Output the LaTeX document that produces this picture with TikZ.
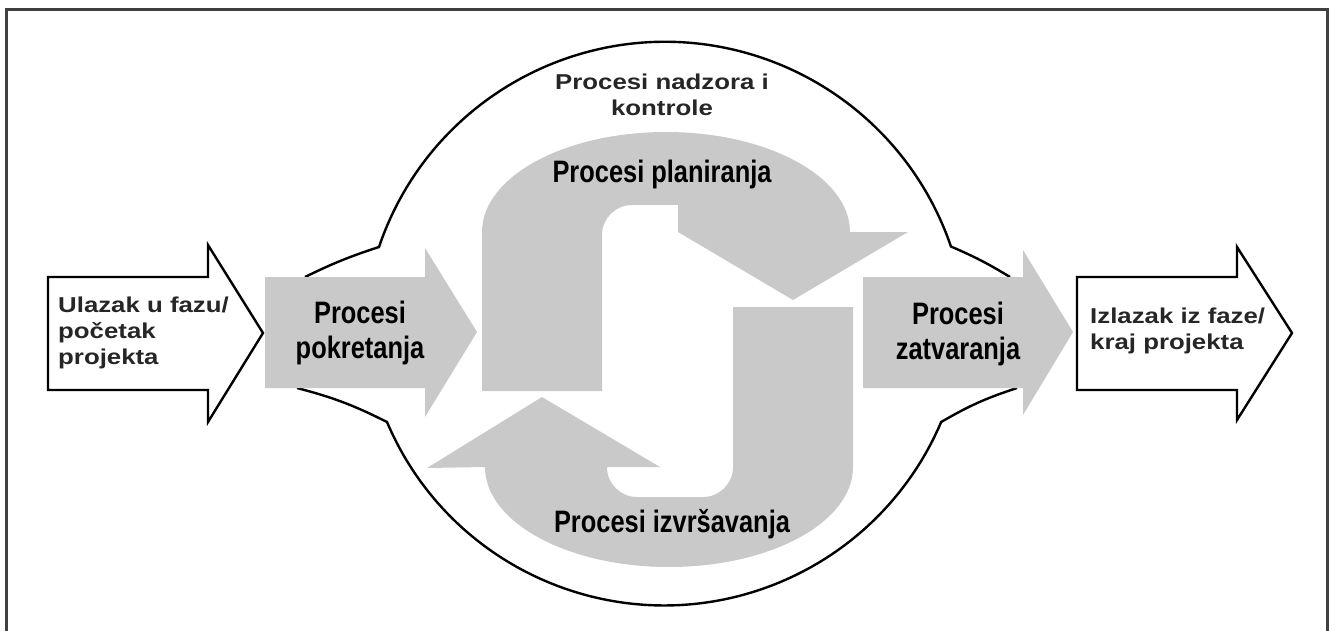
\documentclass[tikz,border=0pt]{standalone}
\usepackage{fontspec}
\setmainfont{Liberation Sans}
\newfontfamily\narrowfont[FakeStretch=0.82]{Liberation Sans}
\newfontfamily\widefont[FakeStretch=1.2]{Liberation Sans}
\usepackage{tikz}

\begin{document}
\begin{tikzpicture}[x=1pt, y=-1pt,
    phase/.style={fill=black!21, draw=none},
    gate/.style={draw=black, line width=2.4pt, fill=white, line join=miter},
    bigtxt/.style={font=\narrowfont\bfseries\fontsize{31}{35}\selectfont, align=center, inner sep=0pt},
    smalltxt/.style={font=\widefont\bfseries\fontsize{21.5}{26}\selectfont, text=black!85, inner sep=0pt}
]
    \useasboundingbox (0,0) rectangle (1330,631);

    % Frame
    \draw[line width=3pt, black!75] (6,631) -- (6,10) -- (1327,10) -- (1327,631);

    % Monitoring and control boundary
    \draw[line width=2.4pt] (305,277) to[bend left=4] (379,247)
        arc[start angle=198.7, end angle=341.2, radius=302] to[bend left=4] (1010,277);
    \draw[line width=2.4pt] (297,388) to[bend left=6] (387,422)
        arc[start angle=157, end angle=23, radius=301] to[bend left=6] (1017,388);

    % Entry and exit
    \draw[gate] (48,277) -- (208,277) -- (208,245) -- (263,333) -- (208,422) -- (208,390) -- (48,390) -- cycle;
    \draw[gate] (1077,277) -- (1237,277) -- (1237,247) -- (1292,333) -- (1237,420) -- (1237,390) -- (1077,390) -- cycle;

    % Initiating and closing
    \fill[phase] (265,277) -- (425,277) -- (425,248) -- (477,332) -- (425,417) -- (425,388) -- (265,388) -- cycle;
    \fill[phase] (863,277) -- (1023,277) -- (1023,250) -- (1073,332) -- (1023,415) -- (1023,388) -- (863,388) -- cycle;

    % Planning
    \fill[phase] (482,391) -- (482,232)
        arc[start angle=180, end angle=360, x radius=184, y radius=100]
        -- (908,232) -- (793,300) -- (678,232) -- (678,205) -- (632,205)
        arc[start angle=270, end angle=180, radius=30] -- (602,391) -- cycle;

    % Executing
    \fill[phase] (733,307) -- (853,307) -- (853,467)
        arc[start angle=0, end angle=180, x radius=184, y radius=100]
        -- (427,468) -- (542,397) -- (660,467) -- (607,467)
        arc[start angle=180, end angle=90, radius=30] -- (703,497)
        arc[start angle=90, end angle=0, radius=30] -- (733,307) -- cycle;

    % Labels
    \node[smalltxt, align=left, anchor=west] (entry) at (58,333) {Ulazak u fazu/\\početak\\projekta};
    \node[smalltxt, align=left, anchor=west] (exit) at (1090,331) {Izlazak iz faze/\\kraj projekta};
    \node[smalltxt, align=center] (control) at (662,95) {Procesi nadzora i\\kontrole};
    \node[bigtxt] (init) at (360,333) {Procesi\\pokretanja};
    \node[bigtxt] (close) at (958,334) {Procesi\\zatvaranja};
    \node[bigtxt] (plan) at (662,174) {Procesi planiranja};
    \node[bigtxt] (exec) at (672,524) {Procesi izvršavanja};

\end{tikzpicture}
\end{document}
